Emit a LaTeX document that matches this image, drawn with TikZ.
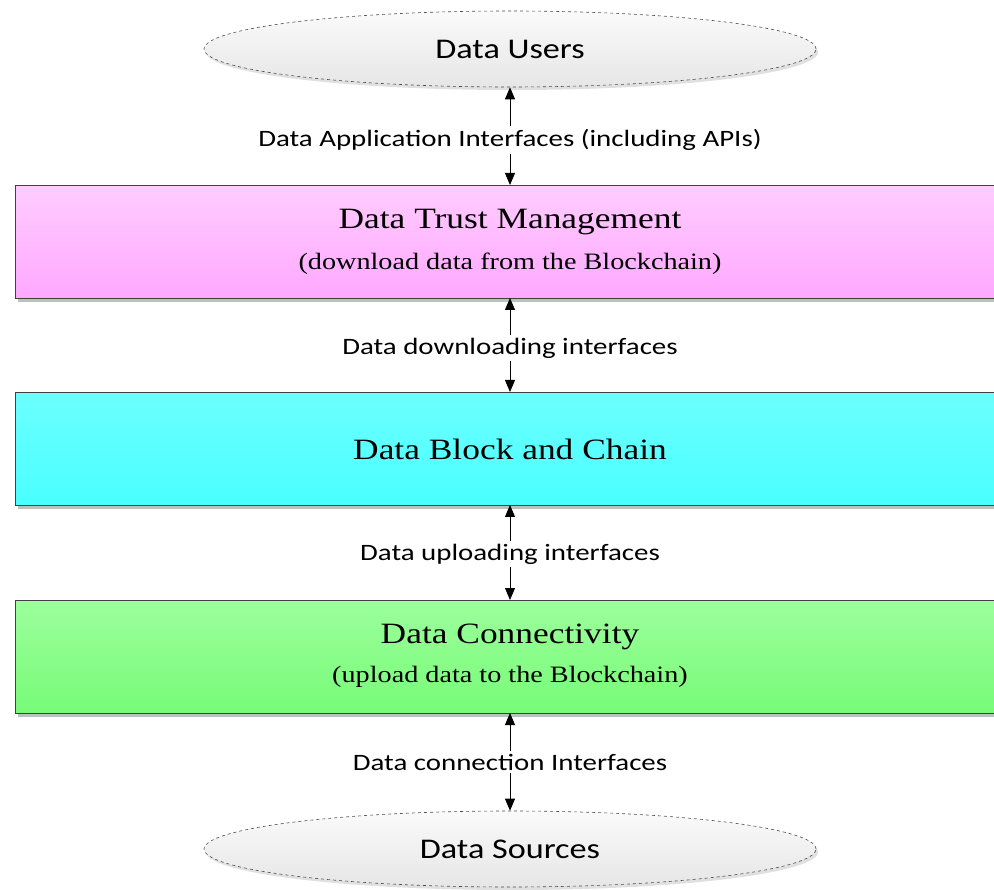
\documentclass[tikz,border=0pt]{standalone}
\usepackage{fontspec}
\setmainfont{Liberation Serif}
\newfontfamily\boxfont[FakeStretch=1.2]{Liberation Serif}
\newfontfamily\lblfont[FakeStretch=1.23]{Carlito}
\newfontfamily\ellfont[FakeStretch=1.2]{Carlito}
\usetikzlibrary{shapes.geometric,arrows.meta,shadows}
\definecolor{pinkT}{HTML}{FFCCFF}
\definecolor{pinkB}{HTML}{FFA8FF}
\definecolor{cyanT}{HTML}{6BFFFF}
\definecolor{cyanB}{HTML}{4AFFFF}
\definecolor{greenT}{HTML}{9CFF9C}
\definecolor{greenB}{HTML}{77FB77}
\definecolor{ellT}{HTML}{FAFAFA}
\definecolor{ellB}{HTML}{E6E6E6}
\begin{document}
\begin{tikzpicture}[x=1pt,y=-1pt,
  layerbox/.style={draw=black!75, line width=0.8pt, minimum width=1000pt, minimum height=113pt,
     anchor=north west, inner sep=0pt,
     drop shadow={shadow xshift=3pt, shadow yshift=-4pt, fill=black!25, opacity=1}},
  titletext/.style={font=\boxfont\fontsize{29.5}{32}\selectfont},
  subtext/.style={font=\boxfont\fontsize{23.5}{28}\selectfont},
  endell/.style={ellipse, draw=black!70, dashed, line width=0.6pt, minimum width=612pt, minimum height=76pt,
     inner sep=0pt, top color=ellT, bottom color=ellB, font=\ellfont\fontsize{28.5}{32}\selectfont,
     drop shadow={shadow xshift=2pt, shadow yshift=-3pt, fill=black!12, opacity=1}},
  iflabel/.style={font=\lblfont\fontsize{23.5}{26}\selectfont, inner sep=3pt},
  conn/.style={-{Triangle[length=12pt,width=10pt]}, line width=0.8pt, black}
]
\useasboundingbox (0,0) rectangle (994,890);
\clip (0,0) rectangle (994,890);

\node[endell] (users) at (510,49) {Data Users};

\node[layerbox, top color=pinkT, bottom color=pinkB] (trust) at (15,185) {};
\node[titletext] (trustA) at (510,222) {Data Trust Management};
\node[subtext] (trustB) at (510,264) {(download data from the Blockchain)};

\node[layerbox, top color=cyanT, bottom color=cyanB] (chain) at (15,392) {};
\node[titletext] (chainA) at (510,449) {Data Block and Chain};

\node[layerbox, top color=greenT, bottom color=greenB] (conn) at (15,600) {};
\node[titletext] (connA) at (510,637) {Data Connectivity};
\node[subtext] (connB) at (510,677) {(upload data to the Blockchain)};

\node[endell] (sources) at (510,849) {Data Sources};

\node[iflabel] (l1) at (510,140) {Data Application Interfaces (including APIs)};
\node[iflabel] (l2) at (510,348) {Data downloading interfaces};
\node[iflabel] (l3) at (510,554) {Data uploading interfaces};
\node[iflabel] (l4) at (510,762) {Data connection Interfaces};

\coordinate (t1) at (510,185);
\coordinate (b1) at (510,298);
\coordinate (t2) at (510,392);
\coordinate (b2) at (510,505);
\coordinate (t3) at (510,600);
\coordinate (b3) at (510,713);

\draw[conn] (l1.north) -- (users.south);
\draw[conn] (l1.south) -- (t1);
\draw[conn] (l2.north) -- (b1);
\draw[conn] (l2.south) -- (t2);
\draw[conn] (l3.north) -- (b2);
\draw[conn] (l3.south) -- (t3);
\draw[conn] (l4.north) -- (b3);
\draw[conn] (l4.south) -- (sources.north);
\end{tikzpicture}
\end{document}
